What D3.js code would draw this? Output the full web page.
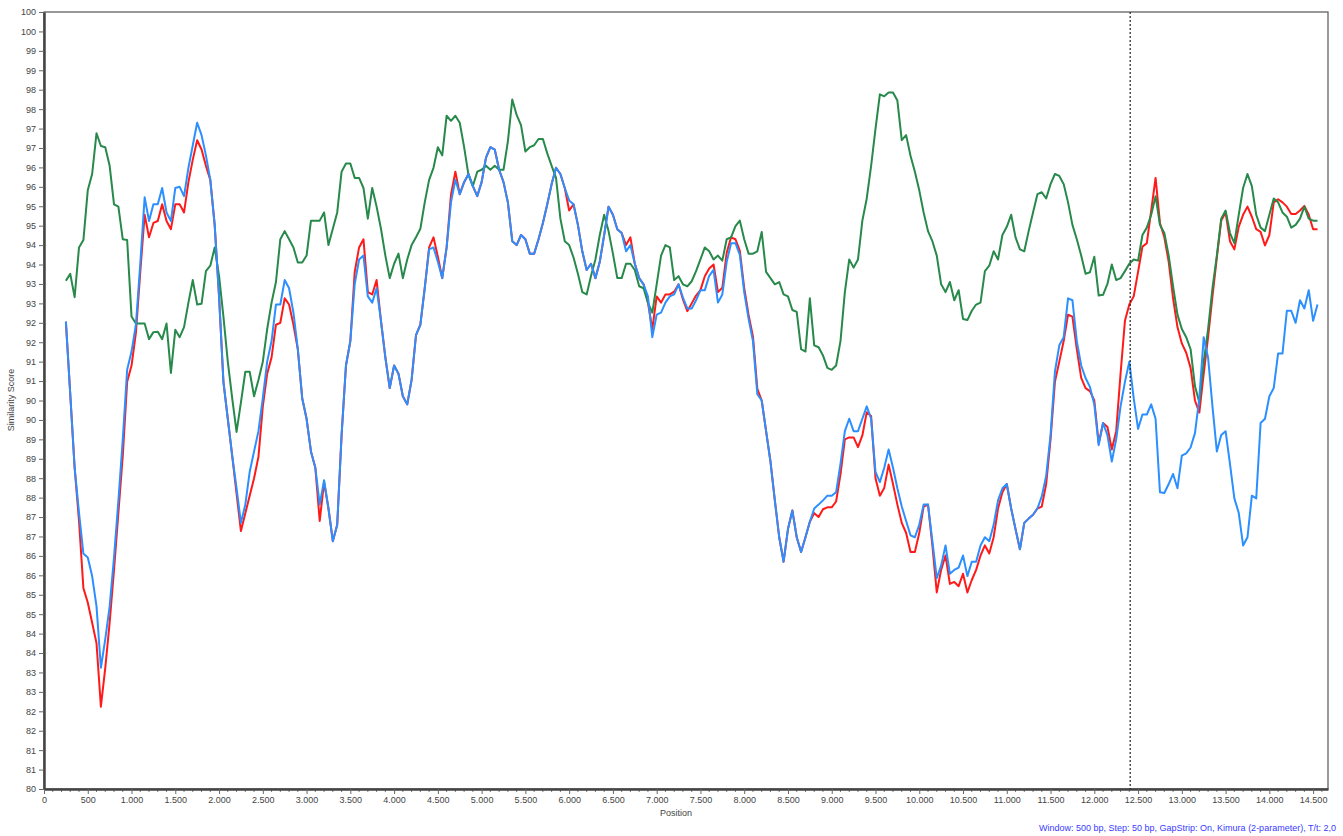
<!DOCTYPE html>
<html>
<head>
<meta charset="utf-8">
<script src="https://cdn.jsdelivr.net/npm/d3@7/dist/d3.min.js"></script>
<style>
  html, body { margin: 0; padding: 0; background: #fff; }
  svg { display: block; }
  text { font-family: "Liberation Sans", Arial, sans-serif; }
</style>
</head>
<body>
<svg id="chart" width="1343" height="836"></svg>
<script>
// ---- data ----
const windowStart = 250, stepBp = 50;
const positions = d3.range(windowStart, 14551, stepBp);

const seriesGreen = [
93.08,93.26,92.66,93.94,94.13,95.41,95.83,96.88,96.55,96.52,96.04,95.05,94.99,94.15,94.13,92.16,91.98,91.98,91.98,91.58,
91.76,91.77,91.58,91.98,90.71,91.82,91.63,91.89,92.52,93.1,92.47,92.49,93.33,93.47,93.94,93.21,92.16,91.0,90.06,89.19,
89.95,90.74,90.74,90.11,90.53,
91.0,91.84,92.52,93.05,94.15,94.36,94.15,93.94,93.55,93.55,93.73,94.63,94.63,94.63,94.84,94.0,94.42,94.84,95.89,96.1,
96.1,95.73,95.73,95.47,94.68,95.47,94.99,94.42,93.73,93.15,93.52,93.78,93.15,93.63,94.0,94.2,94.42,95.1,95.68,95.99,
96.52,96.31,97.33,97.2,97.33,97.15,96.52,95.8,
95.52,95.89,95.94,96.04,95.94,96.04,95.94,95.94,96.67,97.75,97.35,97.09,96.41,96.52,96.57,96.73,96.73,96.36,96.04,95.73,
94.68,94.1,94.0,93.68,93.26,92.79,92.73,93.21,93.63,94.26,94.78,94.36,93.78,93.15,93.15,93.52,93.52,93.36,92.94,92.89,
92.52,92.26,92.99,93.73,94.0,93.94,93.1,93.2,
92.99,92.94,93.07,93.33,93.63,93.94,93.84,93.63,93.73,93.6,94.15,94.2,94.49,94.63,94.15,93.78,93.78,93.84,94.34,93.31,
93.15,92.99,93.05,92.73,92.68,92.33,92.28,91.32,91.26,92.63,91.42,91.37,91.16,90.84,90.79,90.9,91.53,92.79,93.63,93.42,
93.63,94.63,95.2,96.04,96.99,97.88,97.83,97.93,
97.93,97.72,96.7,96.83,96.3,95.89,95.41,94.84,94.36,94.1,93.73,92.99,92.79,93.05,92.58,92.84,92.1,92.07,92.31,92.47,
92.52,93.33,93.47,93.84,93.63,94.26,94.47,94.78,94.2,93.89,93.84,94.36,94.84,95.31,95.36,95.2,95.57,95.83,95.78,95.57,
95.1,94.52,94.15,93.73,93.26,93.3,93.7,92.7,
92.72,93.0,93.5,93.1,93.15,93.33,93.52,93.63,93.6,94.26,94.45,94.78,95.26,94.52,94.31,93.73,92.94,92.21,91.84,91.63,
91.32,90.37,89.95,91.0,91.84,92.89,93.73,94.68,94.89,94.31,94.05,94.78,95.47,95.83,95.52,94.78,94.45,94.36,94.78,95.2,
95.1,94.84,94.73,94.45,94.52,94.68,94.99,94.68,94.63,94.63
];

const seriesBlue = [
92.03,90.16,88.27,87.11,86.06,85.96,85.48,84.70,83.12,83.86,84.70,85.96,87.43,89.0,90.79,91.26,91.95,93.52,95.23,94.62,
95.05,95.05,95.47,94.84,94.62,95.47,95.5,95.26,95.99,96.57,97.15,96.83,96.31,95.68,94.52,92.68,90.48,89.53,88.58,87.74,
86.85,87.32,88.16,88.69,89.21,
90.06,91.0,91.53,92.47,92.47,93.1,92.89,92.26,91.32,90.06,89.53,88.69,88.27,87.32,87.95,87.22,86.38,86.8,89.11,90.9,
91.53,93.0,93.63,93.73,92.68,92.52,92.89,92.05,91.11,90.32,90.9,90.69,90.11,89.9,90.53,91.68,91.95,92.89,93.89,93.94,
93.57,93.15,93.94,95.1,95.68,95.31,95.62,95.83,
95.52,95.26,95.62,96.25,96.52,96.46,95.94,95.62,95.1,94.1,94.0,94.26,94.15,93.78,93.78,94.15,94.57,95.05,95.57,95.99,
95.83,95.47,95.15,95.05,94.52,93.84,93.36,93.52,93.15,93.57,94.26,94.99,94.78,94.41,94.31,93.84,94.0,93.52,93.15,92.99,
92.68,91.63,92.21,92.26,92.52,92.68,92.73,92.99,
92.65,92.37,92.37,92.58,92.84,92.84,93.21,93.36,92.52,92.73,93.57,94.05,94.05,93.75,92.79,92.1,91.53,90.16,90.0,89.21,
88.43,87.43,86.48,85.85,86.69,87.17,86.48,86.1,86.48,86.88,87.22,87.32,87.43,87.55,87.55,87.64,88.37,89.21,89.53,89.21,
89.21,89.53,89.85,89.53,88.16,87.9,88.27,88.74,
88.27,87.74,87.27,86.9,86.53,86.48,86.8,87.32,87.32,86.38,85.43,85.75,86.27,85.54,85.64,85.7,86.01,85.48,85.85,85.85,
86.27,86.48,86.38,86.8,87.43,87.74,87.85,87.22,86.69,86.17,86.85,86.96,87.06,87.22,87.53,88.06,89.11,90.74,91.42,91.63,
92.63,92.58,91.53,90.9,90.58,90.35,89.9,88.85,
89.42,89.11,88.43,89.0,89.85,90.48,91.0,90.06,89.27,89.64,89.64,89.9,89.53,87.64,87.62,87.85,88.11,87.74,88.58,88.64,
88.79,89.16,90.06,91.63,91.1,89.85,88.69,89.11,89.21,88.37,87.48,87.11,86.27,86.48,87.55,87.48,89.42,89.53,90.11,90.32,
91.21,91.21,92.31,92.31,92.0,92.58,92.37,92.84,92.05,92.47
];

const seriesRed = [
92.03,90.16,88.27,86.9,85.17,84.80,84.28,83.75,82.12,83.12,84.28,85.64,87.11,88.58,90.48,90.9,91.74,93.31,94.78,94.2,
94.57,94.62,95.05,94.62,94.41,95.05,95.05,94.84,95.62,96.2,96.7,96.46,96.04,95.68,94.52,92.68,90.48,89.53,88.58,87.6,
86.64,87.1,87.55,88.0,88.55,
89.85,90.69,91.11,91.95,92.0,92.63,92.47,91.95,91.32,90.06,89.53,88.69,88.27,86.9,87.9,87.22,86.38,86.8,89.11,90.9,
91.53,93.31,93.94,94.15,92.79,92.73,93.1,92.05,91.11,90.32,90.9,90.69,90.11,89.9,90.53,91.68,91.95,92.89,93.94,94.2,
93.7,93.15,93.94,95.3,95.89,95.31,95.62,95.83,
95.52,95.26,95.62,96.25,96.52,96.46,95.94,95.62,95.1,94.1,94.0,94.26,94.15,93.78,93.78,94.15,94.57,95.05,95.57,95.99,
95.83,95.47,94.89,95.05,94.52,93.84,93.36,93.52,93.15,93.57,94.26,94.99,94.78,94.41,94.31,94.0,94.2,93.52,93.15,92.99,
92.52,91.84,92.68,92.52,92.73,92.73,92.8,92.99,
92.6,92.3,92.5,92.7,92.84,93.2,93.4,93.5,92.79,92.9,93.8,94.2,94.15,93.85,92.9,92.2,91.65,90.3,90.0,89.21,
88.43,87.43,86.48,85.85,86.69,87.17,86.48,86.1,86.48,86.88,87.1,87.0,87.2,87.25,87.25,87.4,88.1,89.0,89.05,89.05,
88.8,89.1,89.7,89.6,88.0,87.55,87.75,88.35,
87.85,87.32,86.85,86.59,86.1,86.1,86.59,87.27,87.32,86.27,85.06,85.64,86.01,85.28,85.33,85.22,85.54,85.06,85.38,85.64,
86.01,86.27,86.06,86.48,87.22,87.64,87.85,87.22,86.69,86.17,86.85,86.96,87.06,87.22,87.27,87.85,89.0,90.48,91.0,91.53,
92.21,92.16,91.32,90.58,90.32,90.24,90.0,88.9,
89.42,89.32,88.74,89.21,90.69,92.05,92.47,92.68,93.31,93.96,94.05,94.89,95.73,94.57,94.2,93.57,92.63,91.89,91.47,91.23,
90.84,90.0,89.69,90.69,91.63,92.68,93.68,94.63,94.84,94.1,93.89,94.47,94.78,94.99,94.73,94.41,94.34,93.99,94.26,95.1,
95.18,95.1,94.99,94.8,94.8,94.89,95.01,94.78,94.41,94.41
];

const breakpointBp = 12410;
const xDomainMax = 14670;

const xTickValues = [0,500,1000,1500,2000,2500,3000,3500,4000,4500,5000,5500,6000,6500,7000,
  7500,8000,8500,9000,9500,10000,10500,11000,11500,12000,12500,13000,13500,14000,14500];
const yTickValues = [80,80.5,81,81.5,82,82.5,83,83.5,84,84.5,85,85.5,86,86.5,87,87.5,88,88.5,89,89.5,
  90,90.5,91,91.5,92,92.5,93,93.5,94,94.5,95,95.5,96,96.5,97,97.5,98,98.5,99,99.5,100];

const yAxisTitle = "Similarity Score";
const xAxisTitle = "Position";
const footerText = "Window: 500 bp, Step: 50 bp, GapStrip: On, Kimura (2-parameter), T/t: 2,0";

// ---- drawing ----
(function () {
const svg = d3.select("#chart");
const pLeft = 44, pRight = 1328, pTop = 12, pBottom = 789;

const x = d3.scaleLinear().domain([0, xDomainMax]).range([pLeft, pRight]);
const y = d3.scaleLinear().domain([80, 100]).range([pBottom, pTop]);

const loc = d3.formatLocale({decimal: ",", thousands: ".", grouping: [3], currency: ["", ""]});
const fmtX = loc.format(",d");

// frame
svg.append("rect")
  .attr("x", pLeft).attr("y", pTop)
  .attr("width", pRight - pLeft).attr("height", pBottom - pTop)
  .attr("fill", "#fff").attr("stroke", "#555").attr("stroke-width", 1.2);

// Y axis
const yAxis = d3.axisLeft(y).tickValues(yTickValues).tickSize(5).tickSizeOuter(0)
  .tickFormat(v => String(Math.round(v)));
const gy = svg.append("g").attr("transform", `translate(${pLeft},0)`).call(yAxis);
gy.select(".domain").attr("stroke", "#444").attr("stroke-width", 2.5);
gy.selectAll(".tick line").attr("stroke", "#666");
gy.selectAll(".tick text").attr("font-size", 9).attr("fill", "#444").attr("x", -8);

// X axis minor ticks
const minorTicks = d3.range(0, xDomainMax, 100).filter(v => v % 500 !== 0);
svg.append("g").selectAll("line").data(minorTicks).join("line")
  .attr("x1", d => x(d)).attr("x2", d => x(d))
  .attr("y1", pBottom).attr("y2", pBottom + 3)
  .attr("stroke", "#777").attr("stroke-width", 1);

const xAxis = d3.axisBottom(x).tickValues(xTickValues).tickSize(5).tickSizeOuter(0)
  .tickFormat(fmtX);
const gx = svg.append("g").attr("transform", `translate(0,${pBottom})`).call(xAxis);
gx.select(".domain").attr("stroke", "#444").attr("stroke-width", 2.5);
gx.selectAll(".tick line").attr("stroke", "#666");
gx.selectAll(".tick text").attr("font-size", 9).attr("fill", "#444").attr("y", 8);

// axis titles
svg.append("text").attr("x", 676).attr("y", 816).attr("text-anchor", "middle")
  .attr("font-size", 9).attr("fill", "#444").text(xAxisTitle);
svg.append("text").attr("transform", "translate(14,400) rotate(-90)")
  .attr("text-anchor", "middle").attr("font-size", 9).attr("fill", "#444").text(yAxisTitle);

// footer
svg.append("text").attr("x", 1336).attr("y", 831).attr("text-anchor", "end")
  .attr("font-size", 9).attr("fill", "#3a3aff").text(footerText);

// lines
const line = d3.line().x((d, i) => x(positions[i])).y(d => y(d));
const series = [
  {name: "red", values: seriesRed, color: "#ff1a1a"},
  {name: "green", values: seriesGreen, color: "#27894a"},
  {name: "blue", values: seriesBlue, color: "#2b8fff"}
];
svg.append("g").selectAll("path").data(series).join("path")
  .attr("d", d => line(d.values))
  .attr("fill", "none")
  .attr("stroke", d => d.color)
  .attr("stroke-width", 2)
  .attr("stroke-linejoin", "round");

// breakpoint dashed line
svg.append("line")
  .attr("x1", x(breakpointBp)).attr("x2", x(breakpointBp))
  .attr("y1", pTop).attr("y2", pBottom)
  .attr("stroke", "#222").attr("stroke-width", 1.2).attr("stroke-dasharray", "2,2");
})();
</script>
</body>
</html>
